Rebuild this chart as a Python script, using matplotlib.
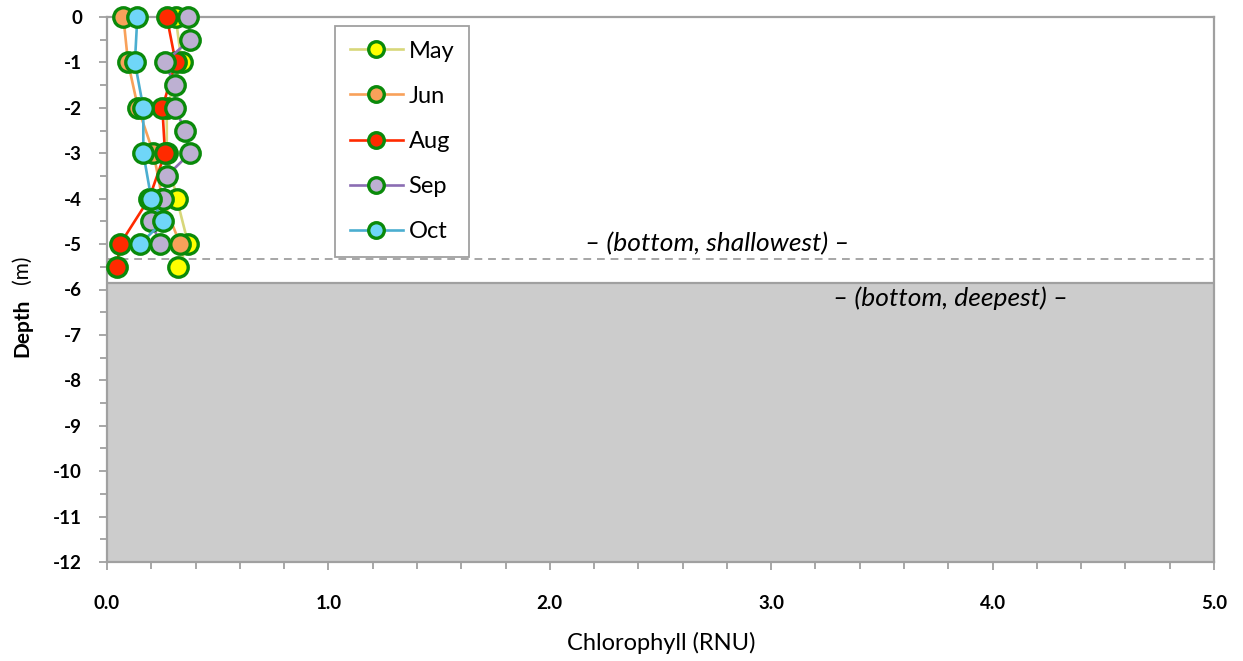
import matplotlib
matplotlib.use("Agg")
import matplotlib.pyplot as plt
from matplotlib.ticker import MultipleLocator, FormatStrFormatter

plt.rcParams['font.family'] = ['Lato', 'DejaVu Sans']

# Chlorophyll profiles by month: depth (m) and reading (RNU)
may_depth = [0, -1, -2, -3, -4, -5, -5.5]
may_chl = [0.31, 0.337, 0.27, 0.27, 0.315, 0.367, 0.322]

jun_depth = [0, -1, -2, -3, -4, -5]
jun_chl = [0.074, 0.095, 0.14, 0.21, 0.25, 0.33]

aug_depth = [0, -1, -2, -3, -4, -5, -5.5]
aug_chl = [0.27, 0.31, 0.25, 0.262, 0.19, 0.059, 0.044]

sep_depth = [0, -0.5, -1, -1.5, -2, -2.5, -3, -3.5, -4, -4.5, -5]
sep_chl = [0.367, 0.375, 0.26, 0.307, 0.307, 0.352, 0.375, 0.27, 0.254, 0.20, 0.24]

oct_depth = [0, -1, -2, -3, -4, -4.5, -5]
oct_chl = [0.137, 0.126, 0.164, 0.164, 0.20, 0.254, 0.149]

bottom_shallowest = -5.33
bottom_deepest = -5.86

series = [
    ("May", may_chl, may_depth, "#D8D77A", "#FFFF00"),
    ("Jun", jun_chl, jun_depth, "#F8A15A", "#F8A15A"),
    ("Aug", aug_chl, aug_depth, "#FF2A00", "#FF2A00"),
    ("Sep", sep_chl, sep_depth, "#8B6DB3", "#BDB0D2"),
    ("Oct", oct_chl, oct_depth, "#4BAED0", "#6FD6F8"),
]

W, H = 1243, 661
fig = plt.figure(figsize=(W / 100, H / 100), dpi=100)
ax = fig.add_axes([107 / W, 1 - 562 / H, (1214 - 107) / W, (562 - 17) / H])

ax.set_xlim(0, 5)
ax.set_ylim(-12, 0)

# lake bottom: shaded below the deepest point, dashed at the shallowest
ax.axhspan(-12, bottom_deepest, facecolor="#CCCCCC", edgecolor="none", zorder=0)
ax.axhline(bottom_deepest, color="#A0A0A0", lw=1.6, zorder=1)
ax.axhline(bottom_shallowest, color="#A6A6A6", lw=1.4, ls=(0, (4, 3)), zorder=1)

ax.text(2.755, -5.0, "– (bottom, shallowest) –", style="italic", fontsize=19,
        ha="center", va="center", zorder=2)
ax.text(3.81, -6.19, "– (bottom, deepest) –", style="italic", fontsize=19,
        ha="center", va="center", zorder=2)

handles = []
for name, x, y, lc, fc in series:
    h, = ax.plot(x, y, color=lc, lw=1.9, marker="o", ms=14, mfc=fc,
                 mec="#0A8A0A", mew=2.4, label=name, clip_on=False, zorder=3)
    handles.append(h)

# axes frame and ticks
for s in ax.spines.values():
    s.set_color("#A0A0A0")
    s.set_linewidth(1.6)

ax.xaxis.set_major_locator(MultipleLocator(1))
ax.xaxis.set_minor_locator(MultipleLocator(0.2))
ax.yaxis.set_major_locator(MultipleLocator(1))
ax.yaxis.set_minor_locator(MultipleLocator(0.5))
ax.xaxis.set_major_formatter(FormatStrFormatter("%.1f"))
ax.yaxis.set_major_formatter(FormatStrFormatter("%d"))

ax.tick_params(which="both", direction="out", color="#A0A0A0", width=1.3)
ax.tick_params(which="major", length=6, labelsize=13.5)
ax.tick_params(which="minor", length=5)
ax.tick_params(axis="x", which="major", pad=18)
ax.tick_params(axis="y", which="major", pad=12)
for lab in ax.get_xticklabels() + ax.get_yticklabels():
    lab.set_fontweight("bold")

fig.text(661 / W, 1 - 643 / H, "Chlorophyll (RNU)", fontsize=17,
         ha="center", va="center")
fig.text(22 / W, 1 - 328 / H, "Depth", fontsize=15, fontweight="bold",
         rotation=90, ha="center", va="center")
fig.text(22 / W, 1 - 270 / H, "(m)", fontsize=15,
         rotation=90, ha="center", va="center")

leg = ax.legend(handles=handles, loc="upper left",
                bbox_to_anchor=((335 - 107) / (1214 - 107), 1 - (26 - 17) / (562 - 17)),
                borderaxespad=0, fontsize=17, markerscale=0.8, handlelength=2.25,
                handletextpad=0.25, labelspacing=1.02, borderpad=0.62,
                fancybox=False, framealpha=1, edgecolor="#A0A0A0")
leg.get_frame().set_linewidth(1.3)

fig.savefig("out.png", dpi=100)
